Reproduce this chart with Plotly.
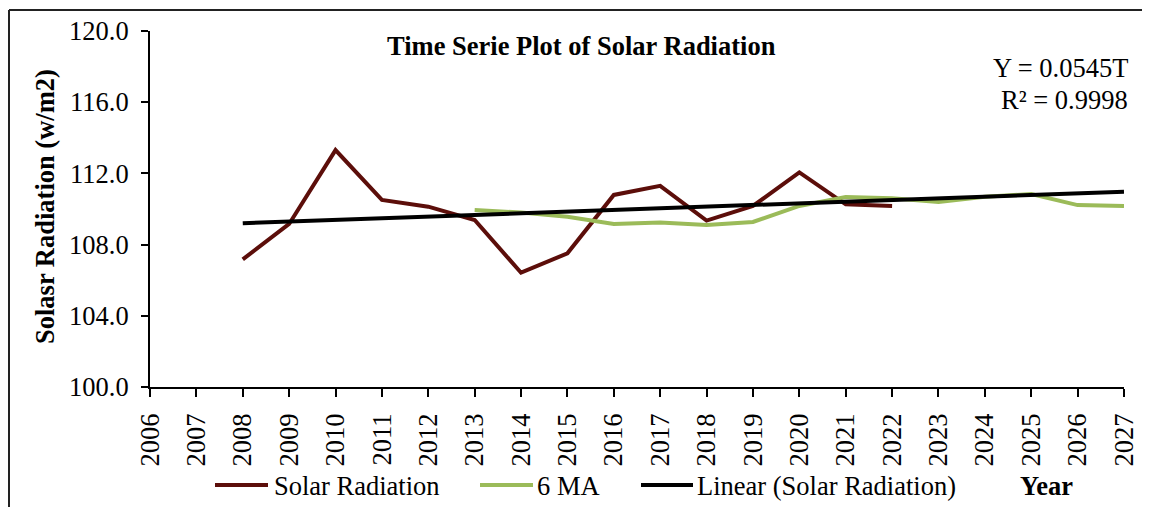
import plotly.graph_objects as go

years_solar = [2008, 2009, 2010, 2011, 2012, 2013, 2014, 2015, 2016, 2017, 2018, 2019, 2020, 2021, 2022]
solar = [107.17, 109.16, 113.31, 110.51, 110.13, 109.38, 106.42, 107.51, 110.79, 111.3, 109.35, 110.17, 112.06, 110.26, 110.17]

years_ma = [2013, 2014, 2015, 2016, 2017, 2018, 2019, 2020, 2021, 2022, 2023, 2024, 2025, 2026, 2027]
ma6 = [109.94, 109.8, 109.57, 109.16, 109.24, 109.1, 109.27, 110.17, 110.67, 110.6, 110.4, 110.69, 110.84, 110.22, 110.17]

years_trend = [2008, 2027]
trend = [109.2, 110.97]

x_ticks = list(range(2006, 2028))
y_ticks = [100.0, 104.0, 108.0, 112.0, 116.0, 120.0]

series_names = ["Solar Radiation", "6 MA", "Linear (Solar Radiation)"]
series_colors = ["#5C0E0A", "#9BBB59", "#000000"]

FONT = "Liberation Serif"
FS = 26.5
OFF = 8  # default page body margin
W, H = 1142, 499
L, R, T, B = 142, 26, 23, 120
PW, PH = W - L - R, H - T - B


def px(page_x):
    return (page_x - OFF - L) / PW


def py(page_y):
    return (H - B - (page_y - OFF)) / PH


fig = go.Figure()
for xs, ys, name, color in [(years_solar, solar, series_names[0], series_colors[0]),
                            (years_ma, ma6, series_names[1], series_colors[1]),
                            (years_trend, trend, series_names[2], series_colors[2])]:
    fig.add_trace(go.Scatter(x=xs, y=ys, mode="lines", name=name,
                             line=dict(color=color, width=4), showlegend=False))

fig.update_layout(
    width=W, height=H,
    margin=dict(l=L, r=R, t=T, b=B, autoexpand=False),
    paper_bgcolor="white", plot_bgcolor="white",
    font=dict(family=FONT, size=FS, color="black"),
    showlegend=False,
    xaxis=dict(range=[2006, 2027], tickvals=x_ticks, ticktext=[str(v) for v in x_ticks],
               tickangle=-90, ticks="outside", ticklen=8, tickwidth=2, tickcolor="black",
               showline=True, linecolor="black", linewidth=2, showgrid=False, zeroline=False,
               ticklabelstandoff=6,
               tickfont=dict(family=FONT, size=FS, color="black")),
    yaxis=dict(range=[100, 120], tickvals=y_ticks, ticktext=[f"{v:.1f}" for v in y_ticks],
               ticks="outside", ticklen=7, tickwidth=2, tickcolor="black",
               showline=True, linecolor="black", linewidth=2, showgrid=False, zeroline=False,
               ticklabelstandoff=7,
               tickfont=dict(family=FONT, size=FS, color="black")),
)


def note(text, x, y, xanchor="center", angle=0):
    fig.add_annotation(text=text, xref="paper", yref="paper", x=px(x), y=py(y),
                       xanchor=xanchor, yanchor="middle", textangle=angle, showarrow=False,
                       font=dict(family=FONT, size=FS, color="black"))


note("<b>Time Serie Plot of Solar Radiation</b>", 581, 46)
note("Y = 0.0545T", 1130, 68, xanchor="right")
note("R² = 0.9998", 1130, 100, xanchor="right")
note("<b>Solasr Radiation (w/m2)</b>", 45, 207, angle=-90)
note("<b>Year</b>", 1046, 486)

# manual legend (sample line + label)
legend_sample_x = [(215, 268), (480, 533), (641, 693)]
legend_text_x = [272, 535, 695]
for (x0, x1), tx, name, color in zip(legend_sample_x, legend_text_x, series_names, series_colors):
    fig.add_shape(type="line", xref="paper", yref="paper", x0=px(x0), x1=px(x1),
                  y0=py(485), y1=py(485), line=dict(color=color, width=4))
    note(name, tx, 486, xanchor="left")

# outer chart frame (top and left edges visible)
fig.add_shape(type="line", xref="paper", yref="paper", x0=px(9), x1=px(1150), y0=py(10), y1=py(10),
              line=dict(color="#222222", width=2))
fig.add_shape(type="line", xref="paper", yref="paper", x0=px(9), x1=px(9), y0=py(10), y1=py(507),
              line=dict(color="#222222", width=2))

fig.write_html("out.html")
